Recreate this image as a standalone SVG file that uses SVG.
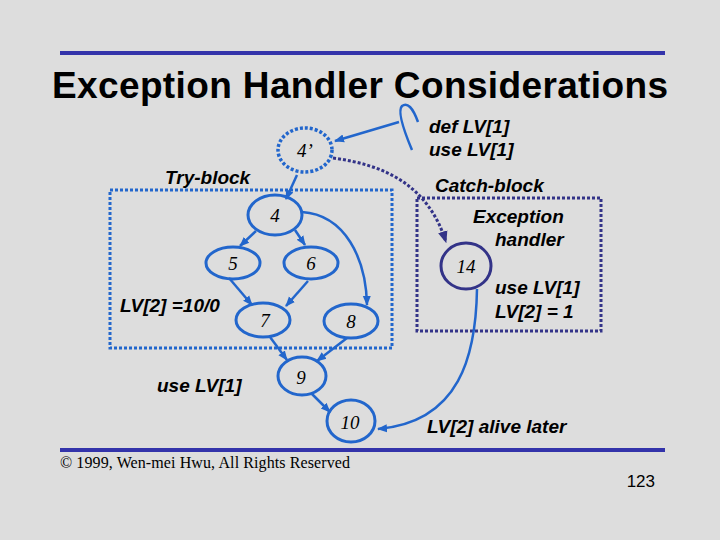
<svg xmlns="http://www.w3.org/2000/svg" width="720" height="540" viewBox="0 0 720 540">
<defs>
<style>
.lbl{font-family:"Liberation Sans",Arial,sans-serif;font-weight:bold;font-style:italic;font-size:19px;fill:#000}
.num{font-family:"Liberation Serif","Times New Roman",serif;font-style:italic;font-size:19px;fill:#000;text-anchor:middle}
.node{fill:none;stroke:#2266cc;stroke-width:3}
.edge{fill:none;stroke:#2266cc;stroke-width:2.5;marker-end:url(#ab)}
.rule{stroke:#3333aa;stroke-width:4}
</style>
<marker id="ab" viewBox="0 0 10 10" refX="9" refY="5" markerWidth="4" markerHeight="4" orient="auto" markerUnits="strokeWidth">
<path d="M0,1 L10,5 L0,9 Z" fill="#2266cc"/>
</marker>
<marker id="ap" viewBox="0 0 10 10" refX="9" refY="5" markerWidth="4" markerHeight="4" orient="auto" markerUnits="strokeWidth">
<path d="M0,1 L10,5 L0,9 Z" fill="#333388"/>
</marker>
</defs>
<rect width="720" height="540" fill="#dddddd"/>
<line class="rule" x1="60" y1="53" x2="665" y2="53"/>
<line class="rule" x1="60" y1="450" x2="665" y2="450"/>
<text x="360" y="98" text-anchor="middle" font-family="'Liberation Sans',Arial,sans-serif" font-weight="bold" font-size="37" textLength="616">Exception Handler Considerations</text>
<text x="60" y="468" font-family="'Liberation Serif','Times New Roman',serif" font-size="16" textLength="290">© 1999, Wen-mei Hwu, All Rights Reserved</text>
<text x="655" y="487" text-anchor="end" font-family="'Liberation Sans',Arial,sans-serif" font-size="17">123</text>

<g id="try-block">
<rect x="110" y="190" width="282" height="158" fill="none" stroke="#2266cc" stroke-width="3" stroke-dasharray="3,2"/>
<text class="lbl" x="165" y="184">Try-block</text>
</g>
<g id="catch-block">
<rect x="417" y="198" width="184" height="133" fill="none" stroke="#333388" stroke-width="3" stroke-dasharray="3,2"/>
<text class="lbl" x="435" y="192">Catch-block</text>
<text class="lbl" x="473" y="223">Exception</text>
<text class="lbl" x="495" y="246">handler</text>
<text class="lbl" x="495" y="294">use LV[1]</text>
<text class="lbl" x="495" y="318">LV[2] = 1</text>
</g>

<g id="connectors">
<path d="M412,150 Q396,112 402,106 Q410,100 418,122" fill="none" stroke="#2266cc" stroke-width="2.5"/>
<path class="edge" d="M399,122 L335,141"/>
<path class="edge" d="M297,175 L286,199"/>
<path d="M333,158 C385,165 428,185 446,242" fill="none" stroke="#333388" stroke-width="3" stroke-dasharray="3,2" marker-end="url(#ap)"/>
<path class="edge" d="M256,231 L240,246"/>
<path class="edge" d="M295,230 L305,245"/>
<path class="edge" d="M302,212 C345,215 366,258 367,305"/>
<path class="edge" d="M229,278 L252,305"/>
<path class="edge" d="M308,281 L286,306"/>
<path class="edge" d="M270,337 L287,360"/>
<path class="edge" d="M347,338 L317,361"/>
<path class="edge" d="M312,394 L330,412"/>
<path class="edge" d="M477,289 C476,355 460,422 378,429"/>
</g>

<g id="n4p">
<ellipse cx="305" cy="150" rx="27" ry="22" fill="none" stroke="#2266cc" stroke-width="3.5" stroke-dasharray="3,2"/>
<text class="num" x="305" y="157">4’</text>
</g>
<g id="n4"><ellipse class="node" cx="275" cy="215" rx="27" ry="20"/><text class="num" x="275" y="222">4</text></g>
<g id="n5"><ellipse class="node" cx="233" cy="263" rx="27" ry="16"/><text class="num" x="233" y="270">5</text></g>
<g id="n6"><ellipse class="node" cx="311" cy="263" rx="27" ry="16"/><text class="num" x="311" y="270">6</text></g>
<g id="n7"><ellipse class="node" cx="263" cy="320" rx="27" ry="17"/><text class="num" x="265" y="327">7</text></g>
<g id="n8"><ellipse class="node" cx="351" cy="321" rx="27" ry="17"/><text class="num" x="351" y="328">8</text></g>
<g id="n9"><ellipse class="node" cx="302" cy="376" rx="24" ry="19"/><text class="num" x="301" y="384">9</text></g>
<g id="n10"><ellipse class="node" cx="351" cy="421" rx="24" ry="21"/><text class="num" x="350" y="429">10</text></g>
<g id="n14"><ellipse cx="466" cy="266" rx="25" ry="23" fill="none" stroke="#333388" stroke-width="3"/><text class="num" x="466" y="273">14</text></g>

<g id="annotations">
<text class="lbl" x="429" y="133">def  LV[1]</text>
<text class="lbl" x="429" y="156">use LV[1]</text>
<text class="lbl" x="120" y="312">LV[2] =10/0</text>
<text class="lbl" x="157" y="392">use LV[1]</text>
<text class="lbl" x="427" y="433">LV[2] alive later</text>
</g>
</svg>
